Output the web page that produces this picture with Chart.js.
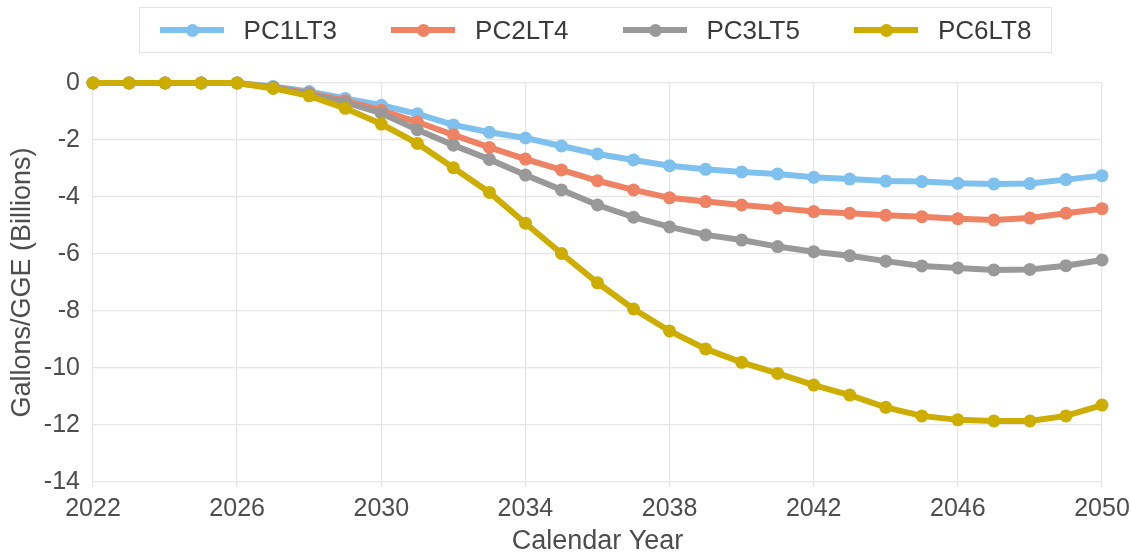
<!DOCTYPE html>
<html>
<head>
<meta charset="utf-8">
<script src="https://cdn.jsdelivr.net/npm/chart.js@4.4.1/dist/chart.umd.min.js"></script>
<style>
  body { margin: 0; background: #fff; }
  #wrap { position: relative; width: 1131px; height: 552px; }
  #legend {
    position: absolute; left: 139px; top: 7px; width: 911px; height: 44px;
    border: 1px solid #e3e3e3; display: flex; justify-content: center; align-items: center;
    font-family: "Liberation Sans", Arial, sans-serif; font-size: 26px; color: #3a3a3a;
  }
  .item { display: flex; align-items: center; margin: 0 27px; }
  .sym { position: relative; width: 64px; height: 6px; margin-right: 20px; }
  .sym i { position: absolute; left: 26px; top: -3.5px; width: 13px; height: 13px; border-radius: 50%; }
</style>
</head>
<body>
<div id="wrap">
  <canvas id="fuelChart" width="1131" height="552"></canvas>
  <div id="legend"></div>
</div>
<script>
var years = [2022, 2023, 2024, 2025, 2026, 2027, 2028, 2029, 2030, 2031, 2032, 2033, 2034, 2035,
  2036, 2037, 2038, 2039, 2040, 2041, 2042, 2043, 2044, 2045, 2046, 2047, 2048, 2049, 2050];

var seriesNames = ["PC1LT3", "PC2LT4", "PC3LT5", "PC6LT8"];
var seriesColors = ["#7ec0ee", "#ee8262", "#999999", "#cdad00"];

var pc1lt3 = [0, 0, 0, 0, 0, -0.12, -0.30, -0.54, -0.78, -1.08, -1.47, -1.73, -1.93, -2.21,
  -2.49, -2.70, -2.90, -3.03, -3.12, -3.19, -3.31, -3.37, -3.44, -3.46, -3.52, -3.54, -3.53, -3.39, -3.25];
var pc2lt4 = [0, 0, 0, 0, 0, -0.15, -0.35, -0.62, -0.96, -1.37, -1.82, -2.26, -2.67, -3.05,
  -3.43, -3.75, -4.03, -4.16, -4.28, -4.39, -4.51, -4.57, -4.64, -4.69, -4.76, -4.81, -4.74, -4.57, -4.41];
var pc3lt5 = [0, 0, 0, 0, 0, -0.16, -0.38, -0.68, -1.06, -1.64, -2.18, -2.68, -3.23, -3.75,
  -4.28, -4.71, -5.05, -5.33, -5.51, -5.74, -5.92, -6.06, -6.25, -6.42, -6.49, -6.56, -6.54, -6.41, -6.21];
var pc6lt8 = [0, 0, 0, 0, 0, -0.19, -0.45, -0.89, -1.44, -2.12, -2.97, -3.84, -4.92, -5.98,
  -7.01, -7.93, -8.70, -9.33, -9.80, -10.19, -10.60, -10.95, -11.38, -11.68, -11.82, -11.86, -11.86, -11.68, -11.30];

var allValues = [pc1lt3, pc2lt4, pc3lt5, pc6lt8];

var fontFamily = '"Liberation Sans", Arial, sans-serif';
var textColor = "#4d4d4d";
var gridColor = "#e6e6e6";

function toPoints(values) {
  return values.map(function (v, i) {
    return { x: years[i], y: v };
  });
}

var datasets = seriesNames.map(function (name, i) {
  return {
    label: name,
    data: toPoints(allValues[i]),
    borderColor: seriesColors[i],
    backgroundColor: seriesColors[i],
    borderWidth: 6,
    pointRadius: 6.5,
    pointHoverRadius: 6.5,
    pointBorderWidth: 0,
    clip: false,
    order: seriesNames.length - i, // later series drawn on top
  };
});

// html legend
var legendEl = document.getElementById("legend");
seriesNames.forEach(function (name, i) {
  var item = document.createElement("div");
  item.className = "item";
  item.innerHTML = '<span class="sym" style="background:' + seriesColors[i] + '"><i style="background:' +
    seriesColors[i] + '"></i></span><span>' + name + "</span>";
  legendEl.appendChild(item);
});

var ctx = document.getElementById("fuelChart").getContext("2d");
var fuelChart = new Chart(ctx, {
  type: "line",
  data: { datasets: datasets },
  options: {
    responsive: false,
    animation: false,
    layout: { padding: { top: 83, left: 4, right: 2, bottom: 0 } },
    plugins: {
      legend: { display: false },
      tooltip: { enabled: false },
    },
    scales: {
      x: {
        type: "linear",
        min: 2022,
        max: 2050,
        border: { display: false },
        grid: { color: gridColor, lineWidth: 1.3, tickLength: 5, tickColor: gridColor },
        afterFit: function (scale) {
          scale.height = 70;
          scale.paddingRight = 29;
        },
        ticks: {
          stepSize: 4,
          padding: 7,
          color: textColor,
          font: { family: fontFamily, size: 25 },
          maxRotation: 0,
          callback: function (v) { return String(v); },
        },
        title: {
          display: true,
          text: "Calendar Year",
          color: textColor,
          font: { family: fontFamily, size: 27 },
          padding: { top: 0, bottom: -6 },
        },
      },
      y: {
        min: -14,
        max: 0,
        border: { display: false },
        grid: { color: gridColor, lineWidth: 1.3, drawTicks: false },
        afterFit: function (scale) { scale.width = 89; },
        ticks: {
          stepSize: 2,
          padding: 13,
          color: textColor,
          font: { family: fontFamily, size: 25 },
        },
        title: {
          display: true,
          text: "Gallons/GGE (Billions)",
          color: textColor,
          font: { family: fontFamily, size: 27 },
          padding: { top: 2, bottom: 0 },
        },
      },
    },
  },
});
</script>
</body>
</html>
